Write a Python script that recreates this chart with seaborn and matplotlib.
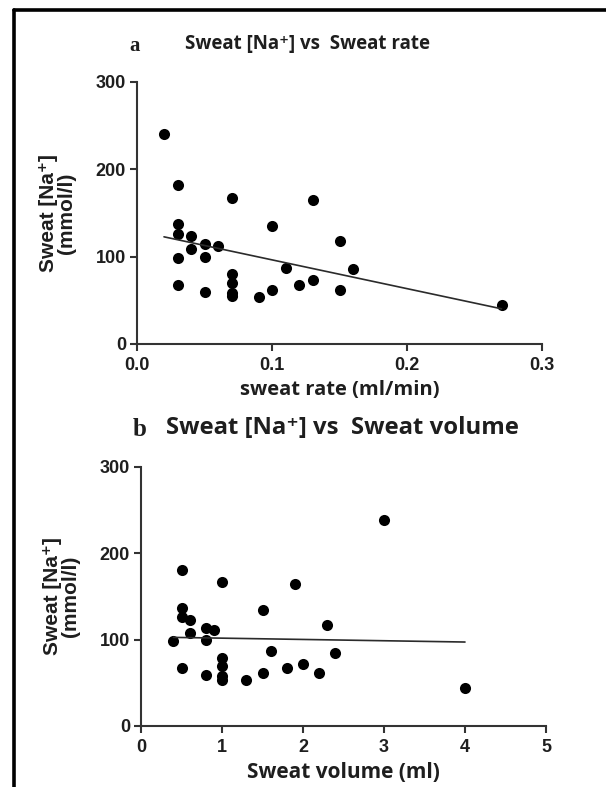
import numpy as np
import pandas as pd
import matplotlib
matplotlib.use("Agg")
import matplotlib.pyplot as plt
import seaborn as sns
from matplotlib.lines import Line2D

# Panel a: sweat sodium against sweat rate
rate_ml_min = [0.02, 0.03, 0.03, 0.03, 0.03, 0.03, 0.04, 0.04, 0.05, 0.05,
               0.05, 0.06, 0.07, 0.07, 0.07, 0.07, 0.07, 0.09, 0.10, 0.10,
               0.11, 0.12, 0.13, 0.13, 0.15, 0.15, 0.16, 0.27]
na_by_rate = [240, 182, 137, 126, 98, 68, 124, 109, 115, 100,
              60, 112, 167, 80, 70, 58, 55, 54, 62, 135,
              87, 68, 165, 73, 118, 62, 86, 45]

# Panel b: sweat sodium against sweat volume
volume_ml = [0.4, 0.5, 0.5, 0.5, 0.5, 0.6, 0.6, 0.8, 0.8, 0.8,
             0.9, 1.0, 1.0, 1.0, 1.0, 1.0, 1.3, 1.5, 1.5, 1.6,
             1.8, 1.9, 2.0, 2.2, 2.3, 2.4, 3.0, 4.0]
na_by_volume = [98, 181, 137, 126, 67, 123, 108, 114, 100, 59,
                111, 167, 79, 69, 58, 53, 53, 134, 61, 87,
                67, 165, 72, 61, 117, 85, 239, 44]

rate_ticks = [0.0, 0.1, 0.2, 0.3]
rate_tick_labels = ["0.0", "0.1", "0.2", "0.3"]
volume_ticks = [0, 1, 2, 3, 4, 5]
na_ticks = [0, 100, 200, 300]

sns.set_style("ticks")
plt.rcParams["font.family"] = ["Liberation Sans", "DejaVu Sans"]
plt.rcParams["font.weight"] = "bold"
plt.rcParams["axes.labelweight"] = "bold"

W, H = 606, 787
fig = plt.figure(figsize=(W / 100, H / 100), dpi=100)
fig.patch.set_facecolor("white")


def px_box(left, top, right, bottom):
    return [left / W, 1 - bottom / H, (right - left) / W, (bottom - top) / H]


ax_a = fig.add_axes(px_box(137, 82, 542, 344))
ax_b = fig.add_axes(px_box(141, 467, 546, 726))

df_a = pd.DataFrame({"rate": rate_ml_min, "na": na_by_rate})
df_b = pd.DataFrame({"volume": volume_ml, "na": na_by_volume})

ink = "#1e1e1e"
axis_col = "#333333"
open_sans = ["Open Sans", "DejaVu Sans"]

for ax, df, xcol in [(ax_a, df_a, "rate"), (ax_b, df_b, "volume")]:
    sns.regplot(data=df, x=xcol, y="na", ax=ax, ci=None, color="black",
                scatter_kws=dict(s=64, color="black", alpha=1, linewidths=0,
                                 zorder=3),
                line_kws=dict(color="#2b2b2b", lw=1.2, zorder=4))
    ax.set_ylim(0, 300)
    ax.set_yticks(na_ticks)
    sns.despine(ax=ax)
    for side in ("left", "bottom"):
        ax.spines[side].set_linewidth(1.5)
        ax.spines[side].set_color(axis_col)
    ax.tick_params(direction="out", length=5, width=1.5, color=axis_col,
                   labelsize=13, labelcolor=ink, pad=3)
    ax.tick_params(axis="x", pad=4.5)
    ax.set_ylabel("Sweat [Na⁺]\n(mmol/l)", fontsize=15, fontweight="bold",
                  color=ink, labelpad=14, linespacing=0.92)

ax_a.set_xlim(0, 0.3)
ax_a.set_xticks(rate_ticks)
ax_a.set_xticklabels(rate_tick_labels)
ax_a.set_xlabel("sweat rate (ml/min)", family=open_sans, fontsize=14.5,
                fontweight="bold", color=ink, labelpad=4)

ax_b.set_xlim(0, 5)
ax_b.set_xticks(volume_ticks)
ax_b.set_xlabel("Sweat volume (ml)", family=open_sans, fontsize=15,
                fontweight="bold", color=ink, labelpad=4)
for ax in (ax_a, ax_b):
    for lab in ax.get_xticklabels() + ax.get_yticklabels():
        lab.set_fontweight("bold")

# Panel letters and headings
serif = ["Liberation Serif", "DejaVu Serif"]
fig.text(129 / W, 1 - 46 / H, "a", family=serif, fontsize=15, fontweight="bold",
         va="center", ha="left", color=ink)
fig.text(185 / W, 1 - 44 / H, "Sweat [Na⁺] vs  Sweat rate", family=open_sans,
         fontsize=13.5, fontweight="bold", va="center", ha="left", color=ink)
fig.text(133 / W, 1 - 429 / H, "b", family=serif, fontsize=18, fontweight="bold",
         va="center", ha="left", color=ink)
fig.text(166 / W, 1 - 428 / H, "Sweat [Na⁺] vs  Sweat volume", family=open_sans,
         fontsize=17.2, fontweight="bold", va="center", ha="left", color=ink)

# Frame edges along the left and top
fig.add_artist(Line2D([14 / W, 14 / W], [0, 1 - 9.5 / H], color="black",
                      lw=2.6, transform=fig.transFigure))
fig.add_artist(Line2D([14 / W, 1], [1 - 9.5 / H, 1 - 9.5 / H], color="black",
                      lw=2.6, transform=fig.transFigure))

fig.savefig("out.png", dpi=100, facecolor="white")
